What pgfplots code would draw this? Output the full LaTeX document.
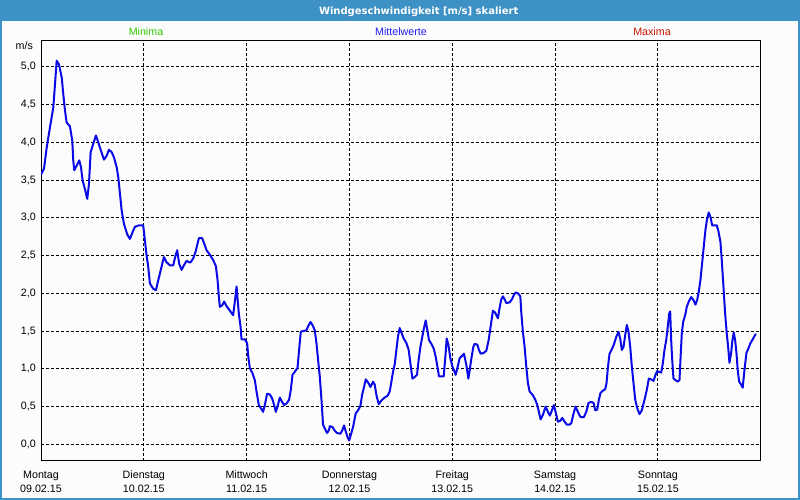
\documentclass[border=0pt]{standalone}
\usepackage{fontspec}
\setmainfont{Liberation Sans}
\newfontfamily\titlefont{DejaVu Sans}
\usepackage{pgfplots}
\pgfplotsset{compat=1.18}

\definecolor{winblue}{RGB}{61,145,197}
\definecolor{bgwhite}{RGB}{252,252,252}
\definecolor{lineblue}{RGB}{10,10,230}
\definecolor{mingreen}{RGB}{50,200,0}
\definecolor{meanblue}{RGB}{30,30,240}
\definecolor{maxred}{RGB}{200,20,0}
\newcommand{\uifont}{\fontsize{10.7}{14}\selectfont}

\begin{document}
\begin{tikzpicture}[x=1pt,y=1pt]
  % window frame
  \fill[bgwhite] (0,0) rectangle (800,500);
  \fill[winblue] (0,479.3) rectangle (800,500);
  \fill[winblue] (0,0) rectangle (2,500);
  \fill[winblue] (798,0) rectangle (800,500);
  \fill[winblue] (0,0) rectangle (800,2.3);
  \node[anchor=base, text=white, font=\titlefont\bfseries\fontsize{10}{12}\selectfont] at (418.7,485.8) {Windgeschwindigkeit [m/s] skaliert};

  \node[anchor=base, text=mingreen, font=\uifont] at (146,464.5) {Minima};
  \node[anchor=base, text=meanblue, font=\uifont] at (401,464.5) {Mittelwerte};
  \node[anchor=base, text=maxred, font=\uifont] at (652,464.5) {Maxima};
  \node[anchor=base east, font=\uifont] at (36.5,450) {m/s};

  \begin{axis}[
      at={(41pt,39.3pt)}, anchor=south west, scale only axis,
      width=719.7pt, height=420pt,
      xmin=0, xmax=168, ymin=-0.217, ymax=5.345,
      xtick={0,24,...,144},
      xticklabels={{Montag\\09.02.15},{Dienstag\\10.02.15},{Mittwoch\\11.02.15},{Donnerstag\\12.02.15},{Freitag\\13.02.15},{Samstag\\14.02.15},{Sonntag\\15.02.15}},
      ytick={0,0.5,...,5},
      grid=major,
      major grid style={black, dash pattern=on 3pt off 2pt, line width=1pt},
      axis line style={black, line width=1pt},
      major tick length=0pt,
      tick style={draw=none},
      ticklabel style={font=\uifont, inner sep=0pt},
      xticklabel style={align=center, anchor=north, yshift=-10pt},
      yticklabel style={anchor=east, xshift=-5pt},
      /pgf/number format/fixed,
      /pgf/number format/fixed zerofill,
      /pgf/number format/precision=1,
      /pgf/number format/use comma,
      /pgf/number format/assume math mode=true,
    ]
    \addplot[lineblue, line width=2pt, line join=round, no markers] coordinates {
      (0,3.57) (0.7,3.65) (1.33,3.93) (2.1,4.2) (2.87,4.46) (3.27,4.77) (3.66,5.08) (4.2,5.03)
      (4.83,4.86) (5.2,4.64) (5.6,4.42) (5.99,4.26) (6.76,4.21) (7.3,4.02) (7.53,3.76) (7.77,3.63)
      (8.33,3.69) (8.93,3.76) (9.33,3.67) (9.73,3.49) (10.26,3.38) (10.8,3.25) (11.2,3.45) (11.59,3.87)
      (12.2,3.98) (12.83,4.09) (13.36,4.0) (13.99,3.89) (14.69,3.77) (15.32,3.82) (15.86,3.9) (16.49,3.87)
      (17.03,3.8) (17.66,3.67) (18.03,3.54) (18.43,3.32) (18.82,3.1) (19.36,2.92) (20.13,2.78) (20.76,2.72)
      (21.39,2.81) (21.92,2.88) (22.86,2.9) (23.86,2.9) (24.26,2.7) (24.65,2.5) (25.03,2.35) (25.42,2.13)
      (26.19,2.06) (26.82,2.04) (27.36,2.17) (27.92,2.3) (28.69,2.48) (29.32,2.41) (30.09,2.37) (30.86,2.37)
      (31.42,2.5) (31.79,2.57) (32.26,2.39) (32.82,2.31) (33.35,2.37) (33.98,2.43) (34.59,2.41)
      (34.92,2.41) (35.52,2.46) (36.08,2.55) (36.85,2.73) (37.62,2.73) (38.09,2.66) (38.65,2.57) (39.42,2.51)
      (40.19,2.44) (40.82,2.36) (41.21,2.18) (41.52,1.95) (41.75,1.82) (42.29,1.84) (42.75,1.89) (43.31,1.83)
      (44.08,1.77) (44.85,1.71) (45.25,1.89) (45.65,2.09) (45.88,1.93) (46.18,1.73) (46.58,1.56) (46.81,1.39)
      (47.58,1.39) (48.12,1.34) (48.35,1.18) (48.75,1.01) (49.38,0.94) (49.91,0.85) (50.31,0.70) (50.85,0.52)
      (51.31,0.48) (51.85,0.43) (52.25,0.52) (52.78,0.67) (53.41,0.66) (53.95,0.61) (54.42,0.52) (54.81,0.43)
      (55.21,0.5) (55.74,0.62) (56.28,0.56) (56.75,0.52) (57.31,0.54) (57.91,0.59) (58.31,0.72) (58.71,0.92)
      (59.24,0.96) (59.87,1.01) (60.25,1.25) (60.64,1.49) (61.18,1.5) (61.97,1.51) (62.34,1.56) (62.9,1.62)
      (63.37,1.58) (63.91,1.51) (64.3,1.34) (64.68,1.12) (65.07,0.9) (65.47,0.59) (65.84,0.26) (66.24,0.21)
      (66.78,0.15) (67.24,0.19)
      (67.41,0.24) (68.04,0.23) (68.57,0.18) (69.11,0.15) (69.9,0.14) (70.37,0.19) (70.74,0.25) (71.14,0.17)
      (71.53,0.1) (71.91,0.05) (72.3,0.12) (72.84,0.23) (73.47,0.41) (74.01,0.45) (74.57,0.51) (74.94,0.65)
      (75.41,0.76) (75.8,0.86) (76.34,0.82) (76.9,0.76) (77.51,0.83) (77.9,0.79) (78.3,0.65) (78.84,0.53)
      (79.46,0.58) (80.23,0.62) (80.86,0.64) (81.4,0.7) (81.8,0.83) (82.17,0.96) (82.57,1.06) (82.96,1.25)
      (83.34,1.43) (83.73,1.54) (84.13,1.48) (84.67,1.4) (85.3,1.34) (85.83,1.25) (86.23,1.07) (86.7,0.87)
      (87.23,0.89) (87.77,0.92) (88.16,1.12) (88.56,1.29) (89.03,1.43) (89.4,1.54) (89.8,1.64) (90.19,1.51)
      (90.57,1.38) (91.13,1.33) (91.66,1.27) (92.13,1.16) (92.53,1.03) (92.9,0.9) (93.46,0.9) (94,0.9)
      (94.39,1.16) (94.7,1.4) (95.09,1.32) (95.56,1.14) (96.03,1.03) (96.4,0.98) (96.79,0.92) (97.19,1.01)
      (97.73,1.14) (98.26,1.17) (98.73,1.2) (99.29,1.05) (99.76,0.87) (100.06,0.98) (100.53,1.16) (100.92,1.29)
      (101.23,1.33) (101.86,1.32) (102.23,1.25) (102.63,1.2) (103.33,1.21) (103.96,1.24) (104.49,1.38) (104.96,1.56)
      (105.49,1.77) (106.05,1.74) (106.66,1.67) (107.06,1.81) (107.45,1.92) (107.83,1.96) (108.22,1.92) (108.62,1.87)
      (109.39,1.88) (109.93,1.92) (110.39,1.98) (110.79,2.01) (111.33,2.0) (111.89,1.96) (112.12,1.74) (112.49,1.49)
      (112.89,1.29) (113.28,1.03) (113.66,0.81) (114.05,0.7) (114.82,0.65) (115.38,0.59) (115.85,0.52) (116.22,0.43)
      (116.62,0.33) (117.16,0.39) (117.79,0.5) (118.32,0.43) (118.79,0.38) (119.26,0.45) (119.72,0.52) (120.12,0.43)
      (120.66,0.3) (121.21,0.31) (121.68,0.35) (122.22,0.3) (122.75,0.26) (123.38,0.26) (123.78,0.28) (124.32,0.41)
      (124.78,0.5) (125.32,0.43) (125.95,0.36) (126.72,0.36) (127.28,0.43) (127.82,0.55) (128.45,0.56) (128.98,0.55)
      (129.38,0.45) (129.84,0.46) (130.22,0.59) (130.61,0.68) (131.15,0.71) (131.71,0.73) (132.01,0.81) (132.32,1.01)
      (132.71,1.2) (133.25,1.26)
      (133.72,1.32) (134.27,1.42) (134.81,1.49) (135.21,1.40) (135.58,1.25) (135.98,1.29) (136.38,1.45) (136.75,1.58)
      (137.15,1.49) (137.54,1.29) (137.92,1.03) (138.31,0.81) (138.71,0.59) (139.17,0.48) (139.71,0.40) (140.25,0.45)
      (140.88,0.59) (141.41,0.72) (141.88,0.87) (142.44,0.86) (142.98,0.84) (143.44,0.92) (143.84,0.97) (144.21,0.96)
      (144.77,0.95) (145.15,1.07) (145.54,1.25) (145.94,1.38) (146.31,1.56) (146.64,1.73) (146.87,1.76) (147.1,1.38)
      (147.34,1.12) (147.64,0.87) (148.11,0.85) (148.64,0.83) (149.04,0.85) (149.27,1.12) (149.58,1.47) (149.9,1.62)
      (150.37,1.71) (150.74,1.82) (151.21,1.89) (151.77,1.95) (152.31,1.91) (152.77,1.85) (153.17,1.91) (153.54,2.02)
      (153.94,2.18) (154.33,2.40) (154.71,2.62) (155.1,2.84) (155.5,2.99) (155.87,3.07) (156.27,3.01) (156.67,2.90)
      (157.2,2.90) (157.74,2.90) (158.14,2.82) (158.6,2.68) (158.91,2.44) (159.3,2.09) (159.7,1.73) (160.07,1.47)
      (160.4,1.29) (160.7,1.08) (161.1,1.21) (161.4,1.38) (161.71,1.48) (162.03,1.38) (162.34,1.21) (162.64,0.98)
      (162.97,0.83) (163.43,0.79) (163.8,0.75) (164.2,0.98) (164.67,1.21) (165.14,1.27) (165.6,1.34) (166.14,1.39)
      (166.7,1.45) (166.93,1.46)
    };
  \end{axis}
  \pgfresetboundingbox
  \useasboundingbox (0,0) rectangle (800,500);
\end{tikzpicture}
\end{document}
